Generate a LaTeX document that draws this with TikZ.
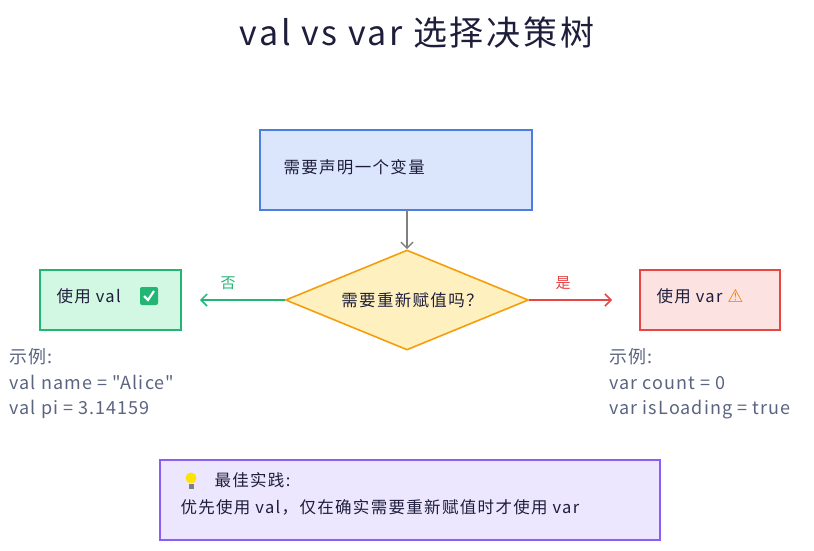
\documentclass[tikz,border=0pt]{standalone}
\usepackage{fontspec}
\setmainfont{Liberation Sans}
\newfontfamily\cjk{Noto Sans CJK SC}
\newfontfamily\cjkw[LetterSpace=8]{Noto Sans CJK SC}
\newfontfamily\cjkc[LetterSpace=6]{Noto Sans CJK SC}
\newfontfamily\dv{DejaVu Sans}
\usetikzlibrary{arrows.meta,shapes.geometric}
\definecolor{ink}{HTML}{1E1E3C}
\definecolor{txt}{HTML}{5A6480}
\definecolor{bstroke}{HTML}{4A7FE0}
\definecolor{bfill}{HTML}{DBE6FD}
\definecolor{dstroke}{HTML}{F59E0B}
\definecolor{dfill}{HTML}{FFF1BF}
\definecolor{gstroke}{HTML}{22B573}
\definecolor{gfill}{HTML}{D2F7E2}
\definecolor{rstroke}{HTML}{E84545}
\definecolor{rfill}{HTML}{FDE2E2}
\definecolor{pstroke}{HTML}{8B5CF6}
\definecolor{pfill}{HTML}{ECE6FF}
\tikzset{
  box/.style={draw, line width=1.6pt, minimum height=80pt, inner sep=0pt},
  arr/.style={line width=1.5pt, -{Straight Barb[length=6pt,width=12pt]}},
  lbl/.style={font=\cjkw\fontsize{16.5}{18}\selectfont, text=ink},
  code/.style={font=\cjkc\fontsize{18}{25.5}\selectfont, text=txt, anchor=west, align=left}
}
\begin{document}
\begin{tikzpicture}[x=1pt,y=-1pt]
\useasboundingbox (0,0) rectangle (814,551);
\node[font=\cjkw\fontsize{34}{36}\selectfont, text=ink] (title) at (417,33) {val vs var 选择决策树};
\node[box, draw=bstroke, fill=bfill, minimum width=272pt] (top) at (396,170) {};
\node[lbl, anchor=west] (toptxt) at (280,167) {需要声明一个变量};
\node[diamond, draw=dstroke, fill=dfill, line width=1.6pt, aspect=2.43, minimum width=243pt, minimum height=100pt, inner sep=0pt] (dia) at (407,300) {};
\node[lbl] (diatxt) at (412,300) {需要重新赋值吗？};
\node[box, draw=gstroke, fill=gfill, minimum width=141pt, minimum height=60pt] (lb) at (110.5,300) {};
\node[lbl, anchor=west] (lbt) at (53,296) {使用 val};
\node[fill=gstroke, rounded corners=2pt, minimum size=18pt, inner sep=0pt] (chk) at (149,296) {};
\draw[white, line width=2.2pt] ([shift={(-5,0)}]chk.center) -- ([shift={(-1,4)}]chk.center) -- ([shift={(5,-5)}]chk.center);
\node[box, draw=rstroke, fill=rfill, minimum width=140pt, minimum height=60pt] (rb) at (710,300) {};
\node[lbl, anchor=west] (rbt) at (653,296) {使用 var \textcolor{orange}{\dv\fontsize{18}{18}\selectfont ⚠}};
\coordinate (ts) at (407,210);
\draw[arr, draw=gray] (ts) -- (dia.north);
\draw[arr, draw=gstroke] (dia.west) -- (200,300) coordinate (le);
\node[font=\cjk\fontsize{15}{16}\selectfont, text=gstroke] (no) at (228,283) {否};
\draw[arr, draw=rstroke] (dia.east) -- (612,300) coordinate (re);
\node[font=\cjk\fontsize{15}{16}\selectfont, text=rstroke] (yes) at (563,283) {是};
\node[code] (lc) at (6,384) {示例:\\val name = "Alice"\\val pi = 3.14159};
\node[code] (rc) at (606,384) {示例:\\var count = 0\\var isLoading = true};
\node[box, draw=pstroke, fill=pfill, minimum width=500pt] (bb) at (410,500) {};
\fill[yellow!85!orange] (191,478) circle (5.5);
\fill[gray] (188.5,484) rectangle (193.5,489);
\node[lbl, anchor=west] (bt1) at (211,480) {最佳实践:};
\node[lbl, anchor=west] (bt2) at (177,507) {优先使用 val，仅在确实需要重新赋值时才使用 var};
\end{tikzpicture}
\end{document}
